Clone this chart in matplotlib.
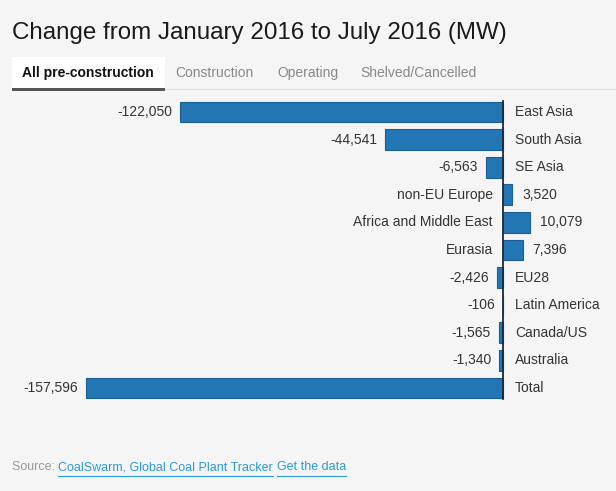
import matplotlib
matplotlib.use('Agg')
import matplotlib.pyplot as plt
from matplotlib.patches import Rectangle
from matplotlib.lines import Line2D
from matplotlib.transforms import offset_copy

# data
regions = ['East Asia', 'South Asia', 'SE Asia', 'non-EU Europe', 'Africa and Middle East',
           'Eurasia', 'EU28', 'Latin America', 'Canada/US', 'Australia', 'Total']
change_mw = [-122050, -44541, -6563, 3520, 10079, 7396, -2426, -106, -1565, -1340, -157596]
tabs = ['All pre-construction', 'Construction', 'Operating', 'Shelved/Cancelled']
tab_x = [22, 175, 277, 360]

W, H = 616, 491
bg = '#f5f5f5'
bar_col = '#2377b4'

plt.rcParams['font.family'] = ['Liberation Sans', 'DejaVu Sans']

fig = plt.figure(figsize=(W / 100, H / 100), dpi=100, facecolor=bg)


def fx(x):
    return x / W


def fy(y):
    return 1 - y / H


# title
fig.text(fx(12), fy(33), 'Change from January 2016 to July 2016 (MW)', fontsize=17.4,
         color='#1a1a1a', va='center', ha='left')

# tabs
fig.patches.append(Rectangle((fx(12), fy(88)), fx(153), 31 / H, transform=fig.transFigure,
                             facecolor='white', edgecolor='none'))
fig.patches.append(Rectangle((fx(165), fy(90)), fx(451), 1.5 / H, transform=fig.transFigure,
                             facecolor='#dddddd', edgecolor='none'))
fig.patches.append(Rectangle((fx(12), fy(91)), fx(153), 3.5 / H, transform=fig.transFigure,
                             facecolor='#555555', edgecolor='none'))
for i, t in enumerate(tabs):
    if i == 0:
        fig.text(fx(tab_x[i]), fy(73), t, fontsize=10, fontweight='bold', color='#111111',
                 va='center', ha='left')
    else:
        fig.text(fx(tab_x[i]), fy(73), t, fontsize=10, color='#888888', va='center', ha='left')

# bars
px_per_mw = (503 - 86) / 157596
ax = fig.add_axes([0, fy(402), 1, (402 - 98) / H])
ax.set_facecolor('none')
ax.set_xlim(-503 / px_per_mw, (W - 503) / px_per_mw)
step = 27.6
ax.set_ylim((402 - 112) / step, (98 - 112) / step)
ypos = list(range(len(regions)))
ax.barh(ypos, change_mw, height=0.76, color=bar_col, edgecolor='#1a5f94', linewidth=0.8)
ax.axvline(0, color='#1d2a38', linewidth=1.3, ymin=0.01, ymax=0.99)
ax.axis('off')

for y, name, v in zip(ypos, regions, change_mw):
    txt = format(v, ',')
    if v < 0:
        ax.text(v, y, txt, fontsize=10, color='#333333', va='center', ha='right',
                transform=offset_copy(ax.transData, fig=fig, x=-8, y=0, units='dots'))
        ax.text(0, y, name, fontsize=10, color='#333333', va='center', ha='left',
                transform=offset_copy(ax.transData, fig=fig, x=12, y=0, units='dots'))
    else:
        ax.text(0, y, name, fontsize=10, color='#333333', va='center', ha='right',
                transform=offset_copy(ax.transData, fig=fig, x=-10, y=0, units='dots'))
        ax.text(v, y, txt, fontsize=10, color='#333333', va='center', ha='left',
                transform=offset_copy(ax.transData, fig=fig, x=10, y=0, units='dots'))

# source line
s0 = fig.text(fx(12), fy(467), 'Source: ', fontsize=9, color='#999999', va='center', ha='left')
fig.canvas.draw()
r = fig.canvas.get_renderer()
bb = s0.get_window_extent(r)
link_col = '#2a9ad6'
x = bb.x1
for lnk in ['CoalSwarm, Global Coal Plant Tracker', 'Get the data']:
    t = fig.text(x / W, fy(467), lnk, fontsize=9, color=link_col, va='center', ha='left')
    fig.canvas.draw()
    b = t.get_window_extent(r)
    fig.lines.append(Line2D([b.x0 / W, b.x1 / W], [fy(476), fy(476)], transform=fig.transFigure,
                            color=link_col, linewidth=0.8))
    x = b.x1 + 4

fig.savefig('out.png', dpi=100, facecolor=bg)
